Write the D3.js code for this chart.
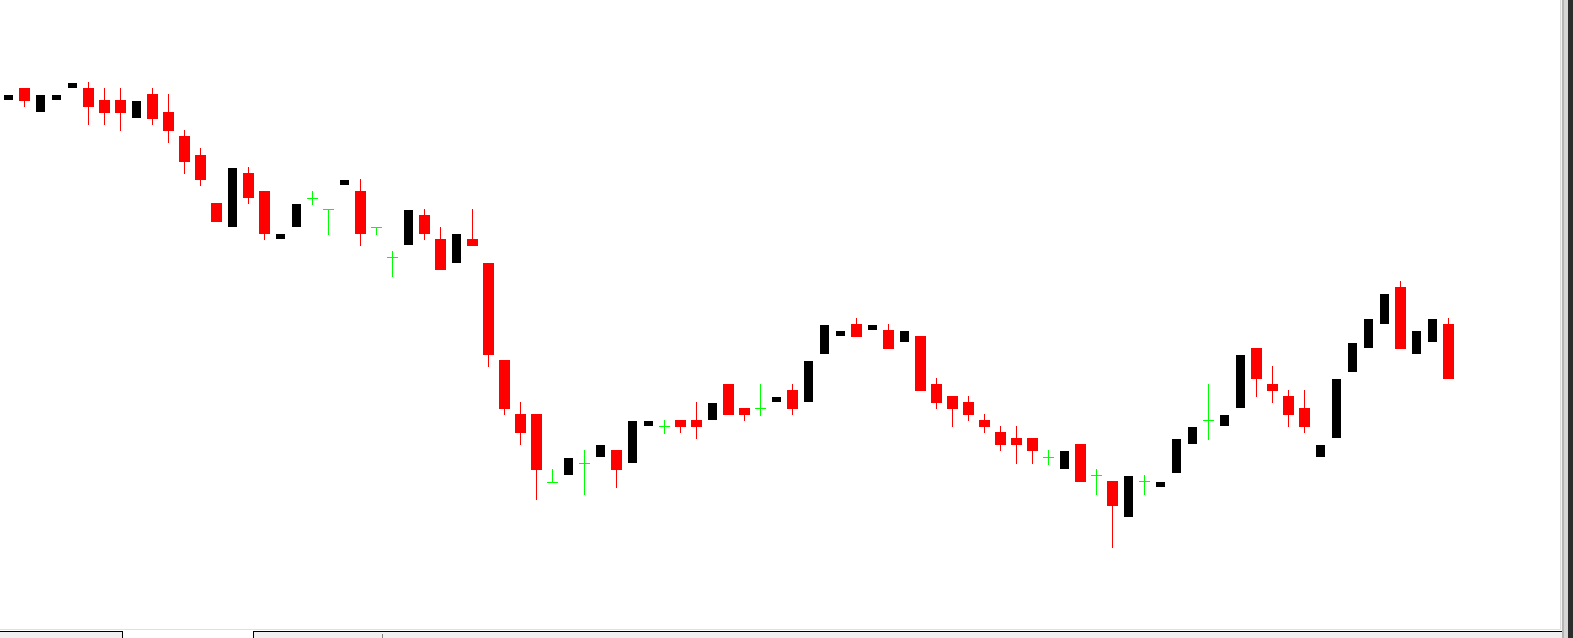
<!DOCTYPE html>
<html>
<head>
<meta charset="utf-8">
<script src="https://cdn.jsdelivr.net/npm/d3@7"></script>
<style>
  html, body { margin: 0; padding: 0; background: #ffffff; overflow: hidden; }
  svg { display: block; }
</style>
</head>
<body>
<svg id="chart" width="1573" height="638"></svg>
<script>
// ---- data (price units) ----
const bars = d3.range(91);
const opens = [540,552,528,540,552,552,540,540,522,546,528,504,485,437,413,467,449,401,413,442.3,
  430.7,455,449,412.7,382.7,395,425,401,377,401,377,280,226,226,158.3,165,176.7,183,190,177,
  214,214,220,220,220,256,232,231.7,238,250,238,286,304,316,310,310,298,304,256,244,
  238,220,208,202,202,183,171,196,165,159,123,159,153,167,196,219.7,214,232,292,256,
  244,232,183,202,268,292,316,353,286,298,316];
const highs = [545,552,545,545,557,558,552,552,539,552,546,510,492,437,472,473,449,406,436,449,
  430.7,460,461,412.7,389,430,431,413,406,431,377,280,238,226,171,182,190,195,190,219,
  219,220,220,238,237,256,232,256,243,256,279,315,309,322,315,316,309,304,262,244,
  244,226,214,214,202,190,189,196,171,159,164,165,158,201,213,256,225,285,292,274,
  250,250,195,261,297,321,346,359,309,321,322];
const lows = [540,533.3,528,540,552,515,515,509,522,515,497,466,454,418,413,436,400,401,413,436.3,
  406,455,394,406,364,395,400,370,377,394,273.3,225,195,140,158.3,165,146,183,152,177,
  214,207,207,201,220,225,219,225,238,225,238,286,304,303,310,291,298,249,231,213,
  219,207,189,176,176,176,171,158,146,92,123,146,153,167,196,201,214,232,243,237,
  213,207,183,202,268,292,316,291,286,298,261];
const closes = [545,539.3,545,545,557,533,527,527,539,521,509,478,460,418,472,442,406,406,436,442.3,
  430.7,460,406,412.7,382.7,430,406,370,406,394,285,231,207,170,158.3,182,176.7,195,170,219,
  219,214,213,213,237,225,225,231.7,243,231,279,315,309,303,315,291,309,249,237,231,
  225,213,195,195,189,183,189,158,165,134,164,159,158,201,213,219.7,225,285,261,249,
  225,213,195,261,297,321,346,291,309,321,261];

const W = 1573, H = 638;
const svg = d3.select("#chart");

// scales
const x = d3.scaleLinear().domain([0, 90]).range([8.5, 1448.5]);
const y = d3.scaleLinear().domain([0, 640]).range([640, 0]);

svg.append("rect").attr("x", 0).attr("y", 0).attr("width", W).attr("height", H).attr("fill", "#ffffff");

const data = bars.map(i => ({ i, o: opens[i], h: highs[i], l: lows[i], c: closes[i] }));
const kind = d => d.c > d.o ? "up" : (d.c < d.o ? "down" : "doji");
const R = v => Math.round(v);

const g = svg.append("g").attr("shape-rendering", "crispEdges");

// wicks for red candles
g.selectAll("line.wick-down").data(data.filter(d => kind(d) === "down"))
  .join("line").attr("class", "wick-down")
  .attr("x1", d => x(d.i)).attr("x2", d => x(d.i))
  .attr("y1", d => R(y(d.h))).attr("y2", d => R(y(d.l)))
  .attr("stroke", "#ff0000").attr("stroke-width", 1);

// red bodies
g.selectAll("rect.down").data(data.filter(d => kind(d) === "down"))
  .join("rect").attr("class", "down")
  .attr("x", d => x(d.i) - 5.5).attr("width", 11)
  .attr("y", d => R(y(d.o))).attr("height", d => Math.max(1, R(y(d.c)) - R(y(d.o))))
  .attr("fill", "#ff0000");

// black bodies (and wicks)
g.selectAll("line.wick-up").data(data.filter(d => kind(d) === "up"))
  .join("line").attr("class", "wick-up")
  .attr("x1", d => x(d.i)).attr("x2", d => x(d.i))
  .attr("y1", d => R(y(d.h))).attr("y2", d => R(y(d.l)))
  .attr("stroke", "#000000").attr("stroke-width", 1);
g.selectAll("rect.up").data(data.filter(d => kind(d) === "up"))
  .join("rect").attr("class", "up")
  .attr("x", d => x(d.i) - 4.5).attr("width", 9)
  .attr("y", d => R(y(d.c))).attr("height", d => Math.max(1, R(y(d.o)) - R(y(d.c))))
  .attr("fill", "#000000");

// green dojis
const dj = data.filter(d => kind(d) === "doji");
g.selectAll("line.doji-v").data(dj).join("line").attr("class", "doji-v")
  .attr("x1", d => x(d.i)).attr("x2", d => x(d.i))
  .attr("y1", d => R(y(d.h))).attr("y2", d => R(y(d.l)) + 1)
  .attr("stroke", "#00ff00").attr("stroke-width", 1);
g.selectAll("line.doji-h").data(dj).join("line").attr("class", "doji-h")
  .attr("x1", d => x(d.i) - 5.5).attr("x2", d => x(d.i) + 5.5)
  .attr("y1", d => R(y(d.o)) + 0.5).attr("y2", d => R(y(d.o)) + 0.5)
  .attr("stroke", "#00ff00").attr("stroke-width", 1);

// ---- window frame ----
const f = svg.append("g").attr("shape-rendering", "crispEdges");
// right border column
f.append("rect").attr("x", 1560).attr("y", 0).attr("width", 1).attr("height", 630).attr("fill", "#dcdcdc");
f.append("rect").attr("x", 1561).attr("y", 0).attr("width", 1).attr("height", 638).attr("fill", "#f4f4f4");
f.append("rect").attr("x", 1562).attr("y", 0).attr("width", 2).attr("height", 638).attr("fill", "#b4b4b4");
f.append("rect").attr("x", 1564).attr("y", 0).attr("width", 4).attr("height", 638).attr("fill", "#d6d6d6");
f.append("rect").attr("x", 1568).attr("y", 0).attr("width", 5).attr("height", 638).attr("fill", "#2d2d2d");
// bottom tab bar
f.append("rect").attr("x", 0).attr("y", 629).attr("width", 1561).attr("height", 1).attr("fill", "#e0e0e0");
f.append("rect").attr("x", 0).attr("y", 632).attr("width", 1562).attr("height", 6).attr("fill", "#f0f0f0");
f.append("rect").attr("x", 0).attr("y", 631).attr("width", 1562).attr("height", 1).attr("fill", "#000000");
f.append("rect").attr("x", 123).attr("y", 630).attr("width", 130).attr("height", 8).attr("fill", "#ffffff");
f.append("rect").attr("x", 122).attr("y", 631).attr("width", 1).attr("height", 7).attr("fill", "#000000");
f.append("rect").attr("x", 253).attr("y", 631).attr("width", 1).attr("height", 7).attr("fill", "#000000");
f.append("rect").attr("x", 382).attr("y", 634).attr("width", 1).attr("height", 4).attr("fill", "#808080");
</script>
</body>
</html>
